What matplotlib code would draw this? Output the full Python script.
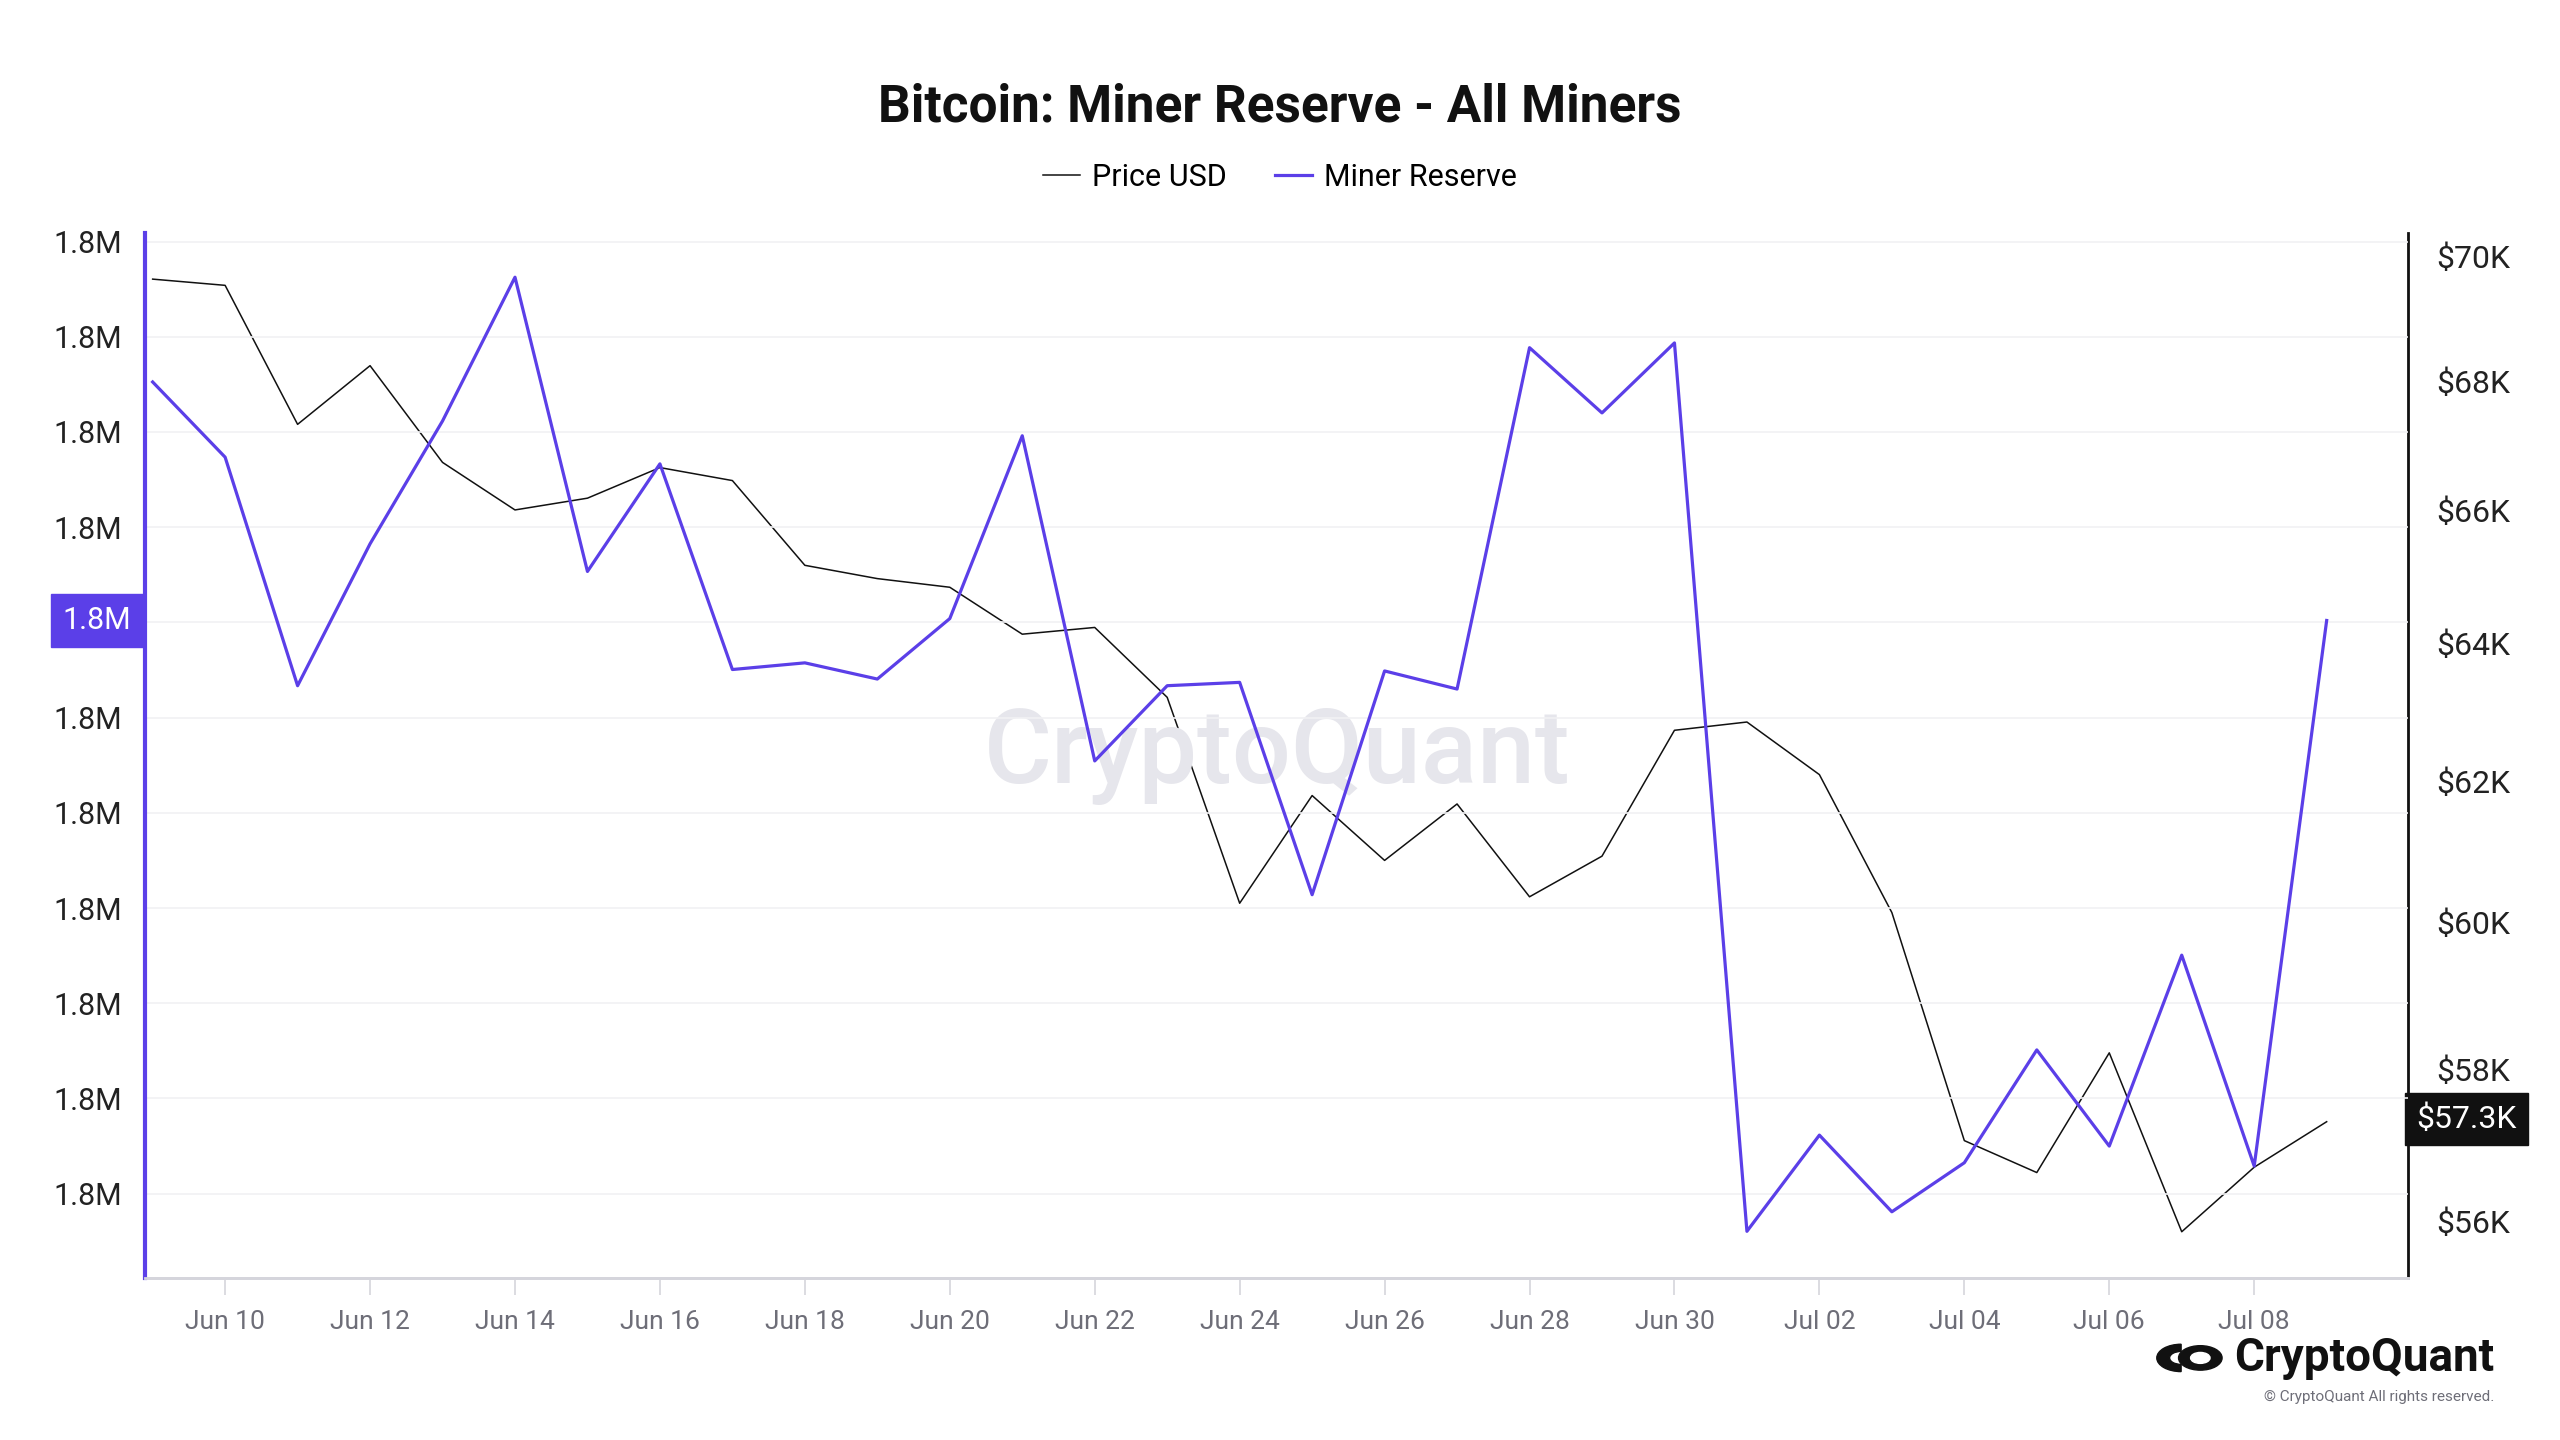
import matplotlib
matplotlib.use("Agg")
import matplotlib.pyplot as plt
import matplotlib.ticker as mticker
from matplotlib.patches import Circle, Wedge
import pandas as pd

plt.rcParams['font.family'] = ['Roboto', 'DejaVu Sans']

# Data: daily values, Jun 09 - Jul 09 2024
dates = pd.date_range("2024-06-09", "2024-07-09", freq="D")

miner_reserve = [
    1815705, 1815547, 1815067, 1815365, 1815623, 1815925, 1815307, 1815533,
    1815101, 1815115, 1815081, 1815208, 1815592, 1814909, 1815067, 1815074,
    1814628, 1815098, 1815060, 1815777, 1815640, 1815787, 1813921, 1814123,
    1813962, 1814065, 1814302, 1814100, 1814501, 1814058, 1815204,
]

price_usd = [
    69630, 69530, 67330, 68250, 66740, 66010, 66190, 66660,
    66460, 65170, 64970, 64840, 64140, 64240, 63210, 60270,
    61790, 60870, 61670, 60360, 60930, 62730, 62850, 62090,
    60140, 57050, 56630, 58220, 55860, 56700, 57300,
]

left_ticks = [1814000 + 200 * i for i in range(11)]
right_ticks = [56000, 58000, 60000, 62000, 64000, 66000, 68000, 70000]
right_labels = ["$56K", "$58K", "$60K", "$62K", "$64K", "$66K", "$68K", "$70K"]

purple = "#5b3fe8"
black = "#111111"
grey_text = "#6e6e78"

fig = plt.figure(figsize=(25.6, 14.4), dpi=100)
ax = fig.add_axes([0.0568, 0.1122, 0.8839, 0.7257])
ax2 = ax.twinx()

# lines
ax2.plot(dates, price_usd, color=black, linewidth=1.1, zorder=3)
ax.plot(dates, miner_reserve, color=purple, linewidth=2.3, zorder=4)
ax.set_zorder(ax2.get_zorder() + 1)
ax.patch.set_visible(False)

# x axis
ax.set_xlim(pd.Timestamp("2024-06-08 21:36"), pd.Timestamp("2024-07-10 03:00"))
xt = pd.date_range("2024-06-10", "2024-07-08", freq="2D")
ax.set_xticks(xt)
ax.set_xticklabels([d.strftime("%b %d") for d in xt])
ax.tick_params(axis="x", colors="#d5d5dc", labelcolor=grey_text, labelsize=19,
               length=12, width=1.2, pad=11)

# left axis (label under the last-value tag is hidden by the tag)
ax.set_ylim(1813822, 1816017)
ax.set_yticks(left_ticks)
step = left_ticks[1] - left_ticks[0]
ax.set_yticklabels(["" if abs(t - miner_reserve[-1]) < step / 2 else f"{t/1e6:.1f}M"
                    for t in left_ticks])
ax.tick_params(axis="y", length=0, labelsize=22, labelcolor="#222222", pad=17)
ax.grid(axis="y", color="#f1f1f4", linewidth=1.2)
ax.set_axisbelow(True)

# right axis (log)
ax2.set_yscale("log")
ax2.set_ylim(55260, 70370)
ax2.yaxis.set_major_locator(mticker.FixedLocator(right_ticks))
ax2.yaxis.set_major_formatter(mticker.FixedFormatter(right_labels))
ax2.yaxis.set_minor_locator(mticker.NullLocator())
ax2.tick_params(axis="y", length=0, labelsize=23, labelcolor="#222222", pad=20)

for a in (ax, ax2):
    a.spines["top"].set_visible(False)
    a.spines["bottom"].set_color("#d5d5dc")
    a.spines["bottom"].set_linewidth(2)
ax.spines["right"].set_visible(False)
ax.spines["left"].set_color(purple)
ax.spines["left"].set_linewidth(3)
ax2.spines["left"].set_visible(False)
ax2.spines["right"].set_color(black)
ax2.spines["right"].set_linewidth(2)

# last value tags
ax.annotate(f"{miner_reserve[-1]/1e6:.1f}M", xy=(0, miner_reserve[-1]),
            xycoords=("axes fraction", "data"), xytext=(-10, 0),
            textcoords="offset points", ha="right", va="center",
            fontsize=22, color="white", zorder=10,
            bbox=dict(boxstyle="square,pad=0.4", fc=purple, ec=purple))
ax2.annotate(f"${price_usd[-1]/1000:.1f}K", xy=(1, price_usd[-1]),
             xycoords=("axes fraction", "data"), xytext=(6, 2),
             textcoords="offset points", ha="left", va="center",
             fontsize=23, color="white",
             bbox=dict(boxstyle="square,pad=0.35", fc=black, ec=black))

# watermark
ax.text(0.5, 0.5, "CryptoQuant", transform=ax.transAxes, ha="center", va="center",
        fontsize=75, color="#e6e6ec", fontweight="medium", zorder=0)

# title and legend
fig.text(0.5, 0.925, "Bitcoin: Miner Reserve - All Miners", ha="center", va="center",
         fontsize=37, fontweight="bold", color=black)
h1, = ax.plot([], [], color=black, linewidth=1.1, label="Price USD")
h2, = ax.plot([], [], color=purple, linewidth=2.3, label="Miner Reserve")
fig.legend(handles=[h1, h2], loc="center", bbox_to_anchor=(0.5, 0.877), ncol=2,
           frameon=False, fontsize=22, handlelength=1.2, handletextpad=0.4,
           columnspacing=1.6)

# logo
fig.text(0.9745, 0.057, "CryptoQuant", ha="right", va="center", fontsize=33,
         fontweight="bold", color=black)
fig.text(0.9745, 0.030, "\u00a9 CryptoQuant All rights reserved.", ha="right",
         va="center", fontsize=11, color=grey_text)
lx, ly = 0.852, 0.057
fig.patches.append(Wedge((lx, ly), 0.0095, 90, 270, transform=fig.transFigure,
                         color=black, width=0.005))
fig.patches.append(Circle((lx + 0.0075, ly), 0.0085, transform=fig.transFigure,
                          color=black))
fig.patches.append(Circle((lx + 0.0075, ly), 0.0038, transform=fig.transFigure,
                          color="white"))

fig.savefig("out.png", dpi=100, facecolor="white")
